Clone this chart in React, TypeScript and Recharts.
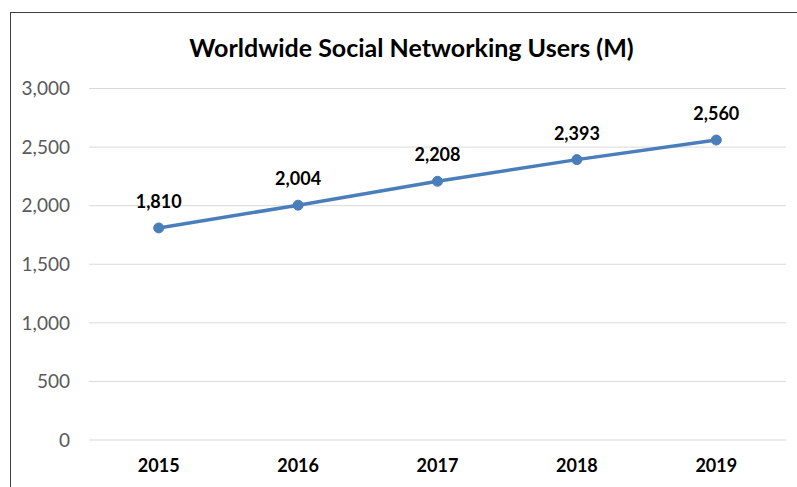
import React from 'react';
import { LineChart, Line, XAxis, YAxis, CartesianGrid, LabelList } from 'recharts';

const years = ['2015', '2016', '2017', '2018', '2019'];
const users = [1810, 2004, 2208, 2393, 2560];
const yTicks = [0, 500, 1000, 1500, 2000, 2500, 3000];

const data = years.map((year, i) => ({ year, users: users[i] }));

const fmt = (v: number) => v.toLocaleString('en-US');

export default function App() {
  return (
    <div style={{ position: 'absolute', left: 0, top: 0, width: 797, height: 487, overflow: 'hidden', background: '#fff', fontFamily: 'Lato, sans-serif' }}>
      <div style={{ position: 'absolute', left: 10, top: 12, width: 800, height: 500, border: '1.5px solid #404040', boxSizing: 'border-box' }} />
      <div style={{ position: 'absolute', left: 0, width: 823, top: 31, textAlign: 'center', fontSize: 25, fontWeight: 700, color: '#000', lineHeight: '32px' }}>
        Worldwide Social Networking Users (M)
      </div>
      <div style={{ position: 'absolute', left: 0, top: 0 }}>
        <LineChart width={797} height={487} data={data} margin={{ top: 88.5, right: 11, bottom: 0, left: 0 }}>
          <CartesianGrid vertical={false} stroke="#d9d9d9" strokeWidth={1} />
          <XAxis
            dataKey="year"
            axisLine={false}
            tickLine={false}
            padding={{ left: 69.7, right: 69.7 }}
            tick={{ fill: '#000', fontSize: 18, fontWeight: 700, fontFamily: 'Lato, sans-serif' }}
            tickMargin={13}
            height={47}
          />
          <YAxis
            width={89}
            domain={[0, 3000]}
            ticks={yTicks}
            axisLine={false}
            tickLine={false}
            tickMargin={13}
            tickFormatter={fmt}
            tick={{ fill: '#595959', fontSize: 19, fontFamily: 'Lato, sans-serif' }}
          />
          <Line
            type="linear"
            dataKey="users"
            stroke="#4a7ebb"
            strokeWidth={3.5}
            dot={{ r: 5, fill: '#4a7ebb', stroke: '#4a7ebb', strokeWidth: 1 }}
            isAnimationActive={false}
          >
            <LabelList
              dataKey="users"
              position="top"
              offset={20}
              formatter={(v: any) => fmt(Number(v))}
              style={{ fill: '#000', fontSize: 18, fontWeight: 700, fontFamily: 'Lato, sans-serif' }}
            />
          </Line>
        </LineChart>
      </div>
    </div>
  );
}
